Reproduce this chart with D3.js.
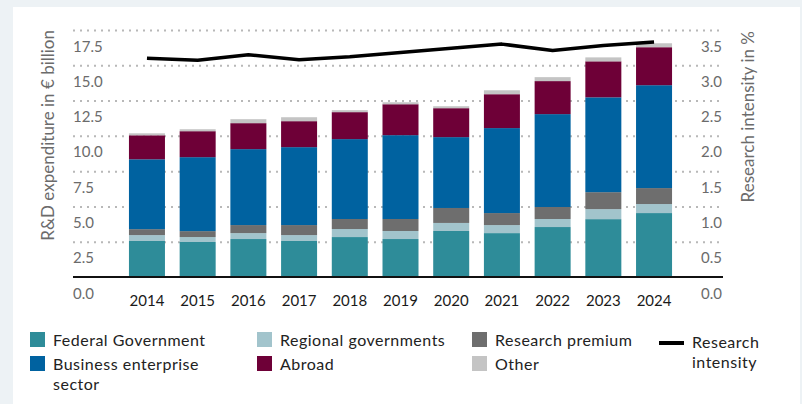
<!DOCTYPE html>
<html>
<head>
<meta charset="utf-8">
<script src="https://cdn.jsdelivr.net/npm/d3@7"></script>
<style>
    body { margin: 0; background: #edf2f5; }
    svg { display: block; font-family: Lato, "Noto Sans", sans-serif; }
</style>
</head>
<body>
<script>
// R&D expenditure by source of funds (EUR billion) and research intensity (%)
const years = [2014, 2015, 2016, 2017, 2018, 2019, 2020, 2021, 2022, 2023, 2024];
const federal  = [2.55, 2.48, 2.69, 2.55, 2.83, 2.69, 3.26, 3.11, 3.54, 4.10, 4.53];
const regional = [0.42, 0.35, 0.42, 0.42, 0.57, 0.57, 0.57, 0.57, 0.57, 0.71, 0.64];
const premium  = [0.42, 0.42, 0.57, 0.71, 0.71, 0.85, 1.06, 0.85, 0.85, 1.20, 1.13];
const business = [4.95, 5.24, 5.38, 5.52, 5.66, 5.94, 5.02, 6.02, 6.58, 6.72, 7.29];
const abroad   = [1.70, 1.84, 1.84, 1.84, 1.91, 2.19, 2.05, 2.40, 2.34, 2.55, 2.69];
const other    = [0.14, 0.14, 0.28, 0.28, 0.14, 0.14, 0.14, 0.28, 0.28, 0.28, 0.28];
const intensity = [3.10, 3.07, 3.15, 3.08, 3.12, 3.18, 3.24, 3.30, 3.21, 3.28, 3.33];

const leftTicks  = [0, 2.5, 5, 7.5, 10, 12.5, 15, 17.5];
const rightTicks = [0, 0.5, 1, 1.5, 2, 2.5, 3, 3.5];

const seriesKeys  = ["Federal Government", "Regional governments", "Research premium",
                     "Business enterprise sector", "Abroad", "Other"];
const seriesVals  = [federal, regional, premium, business, abroad, other];
const seriesColor = ["#2e8c99", "#a2c4cc", "#6e6e6e", "#0062a0", "#6e0037", "#c4c4c4"];

window.onload = main;

function main() {
    const W = 802, H = 404;
    const svg = d3.select("body").append("svg")
        .attr("width", W)
        .attr("height", H);

    // white card
    svg.append("rect")
        .attr("x", 13).attr("y", 7)
        .attr("width", 787).attr("height", H - 7)
        .attr("fill", "#fff");

    const gridLeft = 73, gridRight = 723;
    const y  = d3.scaleLinear().domain([0, 17.5]).range([277, 30]);
    const yR = d3.scaleLinear().domain([0, 3.5]).range([277, 30]);
    const x  = d3.scaleBand().domain(years).range([121.6, 679.4])
        .paddingInner(0.29).paddingOuter(0.145);

    // dotted gridlines
    const grid = svg.append("g")
        .attr("transform", `translate(${gridLeft},0)`)
        .call(d3.axisRight(y).tickValues(leftTicks.filter(d => d > 0))
            .tickSize(gridRight - gridLeft).tickFormat(""));
    grid.select(".domain").remove();
    grid.selectAll("line")
        .attr("stroke", "#b8b8b8")
        .attr("stroke-width", 2)
        .attr("stroke-dasharray", "2 5");

    // stacked bars
    const rows = years.map((yr, i) => {
        const o = { year: yr };
        seriesKeys.forEach((k, j) => o[k] = seriesVals[j][i]);
        return o;
    });
    const stacked = d3.stack().keys(seriesKeys)(rows);
    const color = d3.scaleOrdinal().domain(seriesKeys).range(seriesColor);

    svg.append("g")
        .selectAll("g")
        .data(stacked)
        .join("g")
        .attr("fill", d => color(d.key))
        .selectAll("rect")
        .data(d => d)
        .join("rect")
        .attr("x", d => x(d.data.year))
        .attr("y", d => y(d[1]))
        .attr("width", x.bandwidth())
        .attr("height", d => y(d[0]) - y(d[1]));

    // zero line
    svg.append("line")
        .attr("x1", gridLeft).attr("x2", gridRight)
        .attr("y1", y(0)).attr("y2", y(0))
        .attr("stroke", "#111")
        .attr("stroke-width", 2);

    // research intensity line
    const line = d3.line()
        .x((d, i) => x(years[i]) + x.bandwidth() / 2)
        .y(d => yR(d));
    svg.append("path")
        .datum(intensity)
        .attr("d", line)
        .attr("fill", "none")
        .attr("stroke", "#000")
        .attr("stroke-width", 3.5)
        .attr("stroke-linejoin", "round");

    // left tick labels (drawn below their gridline)
    const la = svg.append("g")
        .attr("transform", `translate(${gridLeft},0)`)
        .call(d3.axisRight(y).tickValues(leftTicks).tickSize(0).tickPadding(0)
            .tickFormat(d3.format(".1f")));
    la.select(".domain").remove();
    la.selectAll("text")
        .attr("dy", null).attr("y", 21)
        .attr("fill", "#6b6b6b")
        .style("font-size", "15px")
        .style("font-family", "Lato, sans-serif");

    // right tick labels
    const ra = svg.append("g")
        .attr("transform", `translate(722,0)`)
        .call(d3.axisLeft(yR).tickValues(rightTicks).tickSize(0).tickPadding(0)
            .tickFormat(d3.format(".1f")));
    ra.select(".domain").remove();
    ra.selectAll("text")
        .attr("dy", null).attr("y", 21)
        .attr("fill", "#6b6b6b")
        .style("font-size", "15px")
        .style("font-family", "Lato, sans-serif");

    // x axis labels
    const xa = svg.append("g")
        .attr("transform", `translate(0,${y(0)})`)
        .call(d3.axisBottom(x).tickSize(0).tickPadding(0));
    xa.select(".domain").remove();
    xa.selectAll("text")
        .attr("dy", null).attr("y", 29)
        .attr("fill", "#1a1a1a")
        .style("font-size", "15px")
        .style("font-family", "Lato, sans-serif");

    // axis titles
    svg.append("text")
        .attr("transform", "translate(54,30) rotate(-90)")
        .attr("text-anchor", "end")
        .attr("fill", "#6b6b6b")
        .style("font-size", "17px")
        .text("R&D expenditure in € billion");

    svg.append("text")
        .attr("transform", "translate(754,31) rotate(-90)")
        .attr("text-anchor", "end")
        .attr("fill", "#6b6b6b")
        .style("font-size", "17px")
        .text("Research intensity in %");

    // legend
    const legendPos = [[30, 332], [257, 332], [472, 332], [30, 356], [257, 356], [472, 356]];
    const legendLabels = [["Federal Government"], ["Regional governments"], ["Research premium"],
                          ["Business enterprise", "sector"], ["Abroad"], ["Other"]];
    const lineGap = 19.5;
    legendLabels.forEach((lines, k) => {
        const [lx, ly] = legendPos[k];
        const g = svg.append("g").attr("transform", `translate(${lx},${ly})`);
        g.append("rect")
            .attr("width", 15).attr("height", 15)
            .attr("fill", seriesColor[k]);
        lines.forEach((s, j) => {
            g.append("text")
                .attr("x", 23).attr("y", 14 + j * lineGap)
                .attr("fill", "#222")
                .style("font-size", "16px")
                .style("letter-spacing", "0.5px")
                .text(s);
        });
    });

    const lg = svg.append("g").attr("transform", "translate(659,343)");
    lg.append("line")
        .attr("x1", 0).attr("x2", 25)
        .attr("stroke", "#000").attr("stroke-width", 4);
    ["Research", "intensity"].forEach((s, j) => {
        lg.append("text")
            .attr("x", 33).attr("y", 5 + j * lineGap)
            .attr("fill", "#222")
            .style("font-size", "16px")
            .style("letter-spacing", "0.5px")
            .text(s);
    });
}
</script>
</body>
</html>
